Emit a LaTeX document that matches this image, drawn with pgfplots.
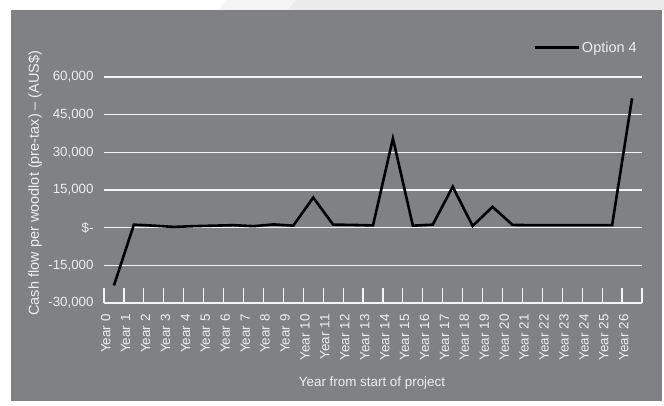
\documentclass[border=0pt]{standalone}
\usepackage{pgfplots}
\pgfplotsset{compat=1.18}
\usepackage{fontspec}
\setmainfont{Liberation Sans}
\definecolor{panel}{HTML}{808185}
\definecolor{txt}{HTML}{EEEEEE}
\definecolor{grd}{HTML}{F4F4F4}
\definecolor{lt1}{HTML}{F5F5F5}
\definecolor{lt2}{HTML}{EBEBEB}
\begin{document}
\begin{tikzpicture}
\path[use as bounding box] (0pt,0pt) rectangle (664pt,405pt);
\fill[white] (0pt,0pt) rectangle (664pt,405pt);
\fill[lt1] (226pt,405pt) -- (664pt,405pt) -- (664pt,395pt) -- (219pt,395pt) -- cycle;
\fill[lt2] (296pt,405pt) -- (664pt,405pt) -- (664pt,395pt) -- (288pt,395pt) -- cycle;
\fill[panel] (11pt,4pt) rectangle (662pt,395pt);
\begin{axis}[
  at={(104pt,102pt)}, anchor=south west,
  scale only axis, width=538pt, height=226pt,
  xmin=-0.5, xmax=26.5, ymin=-30000, ymax=60000,
  axis line style={draw=none},
  scaled y ticks=false,
  ytick={-30000,-15000,0,15000,30000,45000,60000},
  yticklabels={{-30,000},{-15,000},{\$-},{15,000},{30,000},{45,000},{60,000}},
  ymajorgrids, major grid style={grd, line width=1.4pt},
  major tick length=0pt,
  xtick={0,...,26},
  xticklabels={Year 0,Year 1,Year 2,Year 3,Year 4,Year 5,Year 6,Year 7,Year 8,Year 9,Year 10,Year 11,Year 12,Year 13,Year 14,Year 15,Year 16,Year 17,Year 18,Year 19,Year 20,Year 21,Year 22,Year 23,Year 24,Year 25,Year 26},
  minor xtick={-0.5,0.5,...,26.5},
  minor tick length=15pt, tick align=inside, xtick pos=bottom, ytick pos=left,
  minor tick style={grd, line width=1.2pt},
  xticklabel style={rotate=90, anchor=south east, font=\fontsize{13.4}{15}\selectfont, text=txt},
  yticklabel style={font=\fontsize{13.3}{15}\selectfont, text=txt},
  xticklabel shift=8pt, yticklabel shift=7pt,
  legend style={at={(1.0,1.13)}, anchor=east, draw=none, fill=none, text=txt, font=\fontsize{14.5}{16}\selectfont},
  legend image code/.code={\draw[#1] (0pt,0pt) -- (44pt,0pt);},
  clip=false,
]
\addplot[black, line width=2.6pt] coordinates {
(0,-23000) (1,1200) (2,800) (3,300) (4,600) (5,800) (6,1000) (7,600) (8,1300) (9,800)
(10,12000) (11,1200) (12,1100) (13,900) (14,35500) (15,800) (16,1200) (17,16300) (18,700)
(19,8300) (20,1100) (21,1000) (22,1000) (23,1000) (24,1000) (25,1000) (26,51500)
};
\addlegendentry{Option 4}
\end{axis}
\node[rotate=90, text=txt, font=\fontsize{14.5}{16}\selectfont] at (35pt,222pt) {Cash flow per woodlot (pre-tax) – (AUS\$)};
\node[text=txt, font=\fontsize{13.4}{15}\selectfont] at (372pt,22pt) {Year from start of project};
\end{tikzpicture}
\end{document}
